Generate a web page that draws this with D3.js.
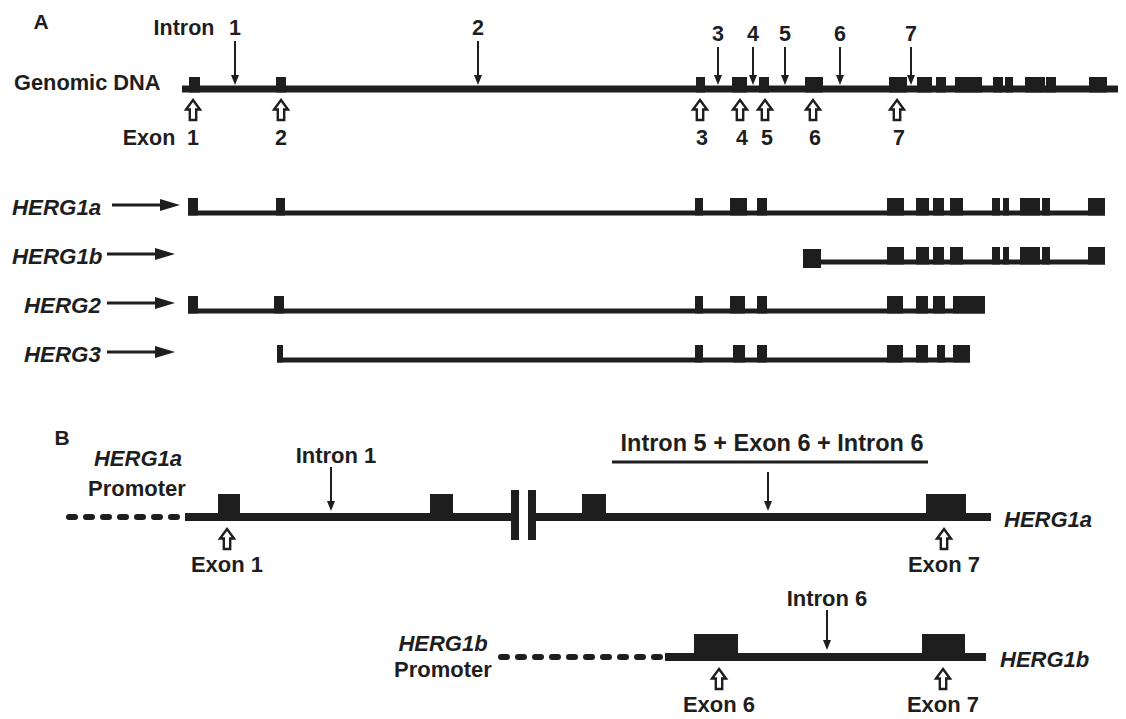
<!DOCTYPE html>
<html><head><meta charset="utf-8">
<script src="https://cdn.jsdelivr.net/npm/d3@7"></script>
<style>
body{margin:0;background:#fff;}
svg text{font-family:"Liberation Sans",Arial,sans-serif;font-weight:bold;fill:#1e1e1e;}
</style></head><body>
<svg id="c" width="1126" height="719"></svg>
<script>
// ---------- DATA (positions in arbitrary genomic units) ----------
const genomicLength = 936;
const genomicExons = [[7,18],[94,104],[514,523],[550,565],[577,587],[623,641],[707,725],[735,750],[754,764],[773,800],[811,821],[823,831],[843,863],[864,874],[907,925]];
const intronLabels = ["1","2","3","4","5","6","7"];
const intronPos = [53,296,536,571,603,658,729];
const exonLabels = ["1","2","3","4","5","6","7"];
const exonPos = [11,99,518,558,583,631,715];

const trackNames = ["HERG1a","HERG1b","HERG2","HERG3"];
const trackSpans = [[6,923],[621,923],[6,803],[95,788]];
const trackExons = [
  [[6,16],[94,103],[513,521],[548,565],[575,585],[705,722],[734,747],[751,762],[768,781],[810,818],[821,827],[838,858],[860,868],[906,923]],
  [[621,639],[705,722],[734,747],[751,762],[768,781],[810,818],[821,827],[838,858],[860,868],[906,923]],
  [[6,16],[92,102],[513,521],[548,563],[575,585],[705,721],[734,746],[751,763],[771,803]],
  [[95,101],[513,521],[551,563],[575,585],[705,721],[734,746],[755,763],[771,788]]
];

// Panel B (schematic units)
const bLength = 925;
const b1aPromoter = [0,117];
const b1aSegments = [[119,445],[470,925]];
const b1aBreak = [[445,453],[462,470]];
const b1aExons = [[152,174],[364,387],[516,540],[860,900]];
const b1aExonMarks = [{p:161,t:"Exon 1"},{p:878,t:"Exon 7"}];
const b1aIntronMarks = [{p:265,t:"Intron 1"},{p:702,t:"Intron 5 + Exon 6 + Intron 6"}];
const b1aBracket = [546,862];
const b1bPromoter = [432,599];
const b1bSegments = [[599,920]];
const b1bExons = [[628,672],[856,899]];
const b1bExonMarks = [{p:653,t:"Exon 6"},{p:877,t:"Exon 7"}];
const b1bIntronMarks = [{p:761,t:"Intron 6"}];

// ---------- DRAW ----------
const ink = "#1e1e1e";
const svg = d3.select("#c");
const x = d3.scaleLinear().domain([0, genomicLength]).range([182, 1118]);
const yT = d3.scalePoint().domain(trackNames).range([213, 360]);
const bx = d3.scaleLinear().domain([0, bLength]).range([66, 991]);
const FA = 21.5, FB = 22;

function upArrow(g, cx, y0) {
  const p = `M${cx},${y0} L${cx+7},${y0+9.5} L${cx+3.2},${y0+9.5} L${cx+3.2},${y0+20} L${cx-3.2},${y0+20} L${cx-3.2},${y0+9.5} L${cx-7},${y0+9.5} Z`;
  g.append("path").attr("d", p).attr("fill", "#fff").attr("stroke", ink).attr("stroke-width", 2.4).attr("stroke-linejoin","miter");
}
function downArrow(g, cx, y0, y1) {
  g.append("line").attr("x1", cx).attr("x2", cx).attr("y1", y0).attr("y2", y1 - 8).attr("stroke", ink).attr("stroke-width", 2);
  g.append("path").attr("d", `M${cx-4},${y1-10} L${cx+4},${y1-10} L${cx},${y1} Z`).attr("fill", ink);
}
function rightArrow(g, x0, x1, y) {
  g.append("line").attr("x1", x0).attr("x2", x1 - 14).attr("y1", y).attr("y2", y).attr("stroke", ink).attr("stroke-width", 3);
  g.append("path").attr("d", `M${x1-20},${y-6} L${x1},${y} L${x1-20},${y+6} Z`).attr("fill", ink);
}
function txt(g, s, px, py, size, anchor, italic) {
  return g.append("text").attr("x", px).attr("y", py).attr("font-size", size)
    .attr("text-anchor", anchor || "middle").attr("dominant-baseline", "central")
    .attr("font-style", italic ? "italic" : "normal").text(s);
}

// Panel A
const A = svg.append("g");
txt(A, "A", 41, 21, 21);
txt(A, "Genomic DNA", 14, 82, 21.8, "start");
const gy = 89;
A.append("rect").attr("x", x(0)).attr("y", gy - 3.5).attr("width", x(genomicLength) - x(0)).attr("height", 7).attr("fill", ink);
A.selectAll("rect.ex").data(genomicExons).join("rect").attr("class","ex")
  .attr("x", d => x(d[0])).attr("width", d => x(d[1]) - x(d[0]))
  .attr("y", gy - 12).attr("height", 15.5).attr("fill", ink);
intronPos.forEach((p, i) => {
  const early = i < 2;
  const ty = early ? 28 : 34;
  if (i === 0) { txt(A, "Intron", 184, ty, FA); }
  txt(A, intronLabels[i], x(p), ty, FA);
  downArrow(A, x(p), early ? 41 : 47, 85);
});
exonPos.forEach((p, i) => {
  upArrow(A, x(p), 100);
  txt(A, exonLabels[i], x(p) + (i >= 2 ? 2 : 0), 138, FA);
});
txt(A, "Exon", 149, 138, FA);

// Transcripts
trackNames.forEach((name, i) => {
  const ty = yT(name);
  const g = svg.append("g");
  const lx = (name === "HERG2" || name === "HERG3") ? 24 : 12;
  txt(g, name, lx, ty - 6, 22.3, "start", true);
  const ax0 = name === "HERG1a" ? 112 : 107;
  rightArrow(g, ax0, name === "HERG1a" ? 180 : 175, ty - 8);
  const span = trackSpans[i];
  g.append("rect").attr("x", x(span[0])).attr("y", ty - 2.5).attr("width", x(span[1]) - x(span[0])).attr("height", 5).attr("fill", ink);
  g.selectAll("rect.ex").data(trackExons[i]).join("rect").attr("class","ex")
    .attr("x", d => x(d[0])).attr("width", d => x(d[1]) - x(d[0]))
    .attr("y", (d, j) => (name === "HERG1b" && j === 0) ? ty - 13 : ty - 15)
    .attr("height", (d, j) => (name === "HERG1b" && j === 0) ? 19 : 17.5).attr("fill", ink);
});

// Panel B
const B = svg.append("g");
txt(B, "B", 62, 437, 21);
function bTrack(y, promoter, segs, exons, exonMarks, rightLabel, lblX) {
  B.append("line").attr("x1", bx(promoter[0]) + 3).attr("x2", bx(promoter[1]) - 3).attr("y1", y).attr("y2", y)
    .attr("stroke", ink).attr("stroke-width", 6).attr("stroke-dasharray", "6,11").attr("stroke-linecap", "round");
  segs.forEach(s => B.append("rect").attr("x", bx(s[0])).attr("y", y - 4).attr("width", bx(s[1]) - bx(s[0])).attr("height", 8).attr("fill", ink));
  exons.forEach(e => B.append("rect").attr("x", bx(e[0])).attr("y", y - 23).attr("width", bx(e[1]) - bx(e[0])).attr("height", 27).attr("fill", ink));
  exonMarks.forEach(m => { upArrow(B, bx(m.p), y + 12); txt(B, m.t, bx(m.p), y + 47, FB); });
  txt(B, rightLabel, lblX, y + 2, FB, "start", true);
}
bTrack(517, b1aPromoter, b1aSegments, b1aExons, b1aExonMarks, "HERG1a", 1004);
b1aBreak.forEach(b => B.append("rect").attr("x", bx(b[0])).attr("y", 490).attr("width", bx(b[1]) - bx(b[0])).attr("height", 50).attr("fill", ink));
downArrow(B, bx(b1aIntronMarks[0].p), 467, 511);
txt(B, b1aIntronMarks[0].t, bx(b1aIntronMarks[0].p) + 5, 455, FB);
downArrow(B, bx(b1aIntronMarks[1].p), 472, 511);
txt(B, b1aIntronMarks[1].t, bx(b1aIntronMarks[1].p) + 4, 443, 23.5);
B.append("rect").attr("x", bx(b1aBracket[0])).attr("y", 460.5).attr("width", bx(b1aBracket[1]) - bx(b1aBracket[0])).attr("height", 3).attr("fill", ink);
txt(B, "HERG1a", 138, 458, FB, "middle", true);
txt(B, "Promoter", 137, 488, FB);

bTrack(657, b1bPromoter, b1bSegments, b1bExons, b1bExonMarks, "HERG1b", 1000);
downArrow(B, bx(b1bIntronMarks[0].p), 610, 650);
txt(B, b1bIntronMarks[0].t, bx(b1bIntronMarks[0].p), 598, FB);
txt(B, "HERG1b", 443, 643, FB, "middle", true);
txt(B, "Promoter", 443, 669, FB);
</script></body></html>
